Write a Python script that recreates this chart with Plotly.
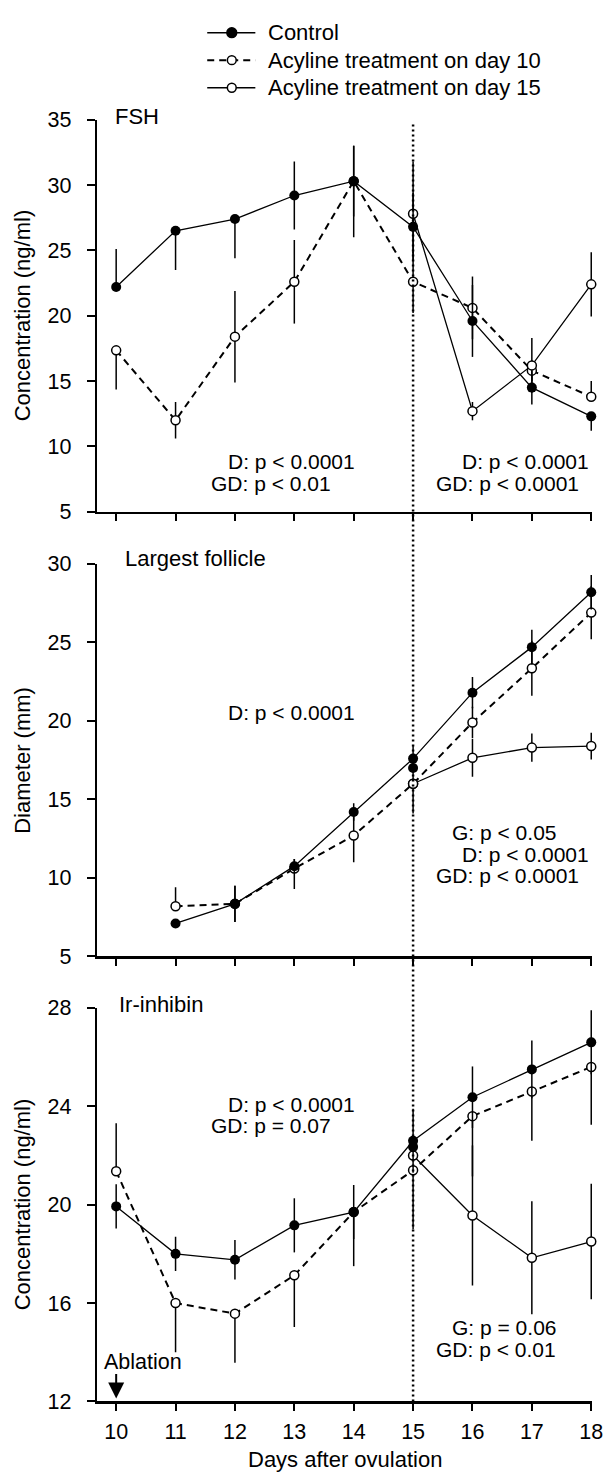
import plotly.graph_objects as go

W, H = 615, 1484
FONT = "Liberation Sans, Arial, Helvetica, sans-serif"

days = [10, 11, 12, 13, 14, 15, 16, 17, 18]
x_ticks = [10, 11, 12, 13, 14, 15, 16, 17, 18]

# ---------------- FSH (ng/ml) ----------------
fsh_control = [22.2, 26.5, 27.4, 29.2, 30.3, 26.8, 19.6, 14.5, 12.3]
fsh_control_ep = [2.9, 0, 0, 2.6, 2.7, 2.6, 2.75, 1.3, 0]
fsh_control_em = [0, 3.0, 3.0, 2.6, 2.7, 2.6, 2.75, 1.3, 1.1]
fsh_acy10 = [17.35, 12.0, 18.4, 22.6, 30.3, 22.6, 20.6, 15.8, 13.8]
fsh_acy10_ep = [0, 1.4, 3.5, 3.2, 2.7, 2.3, 2.4, 0.8, 1.2]
fsh_acy10_em = [3.0, 1.4, 3.5, 3.2, 4.3, 2.4, 2.4, 0.8, 0]
fsh_acy15 = [None, None, None, None, None, 27.8, 12.7, 16.2, 22.4]
fsh_acy15_ep = [0, 0, 0, 0, 0, 4.0, 0.7, 2.1, 2.45]
fsh_acy15_em = [0, 0, 0, 0, 0, 3.0, 0.7, 2.1, 2.45]
fsh_extra = [None, None, None, None, None, None, None, None, None]

# ---------------- Largest follicle (mm) ----------------
fol_control = [None, 7.1, 8.35, 10.75, 14.2, 17.6, 21.8, 24.7, 28.2]
fol_control_ep = [0, 0, 1.15, 0.45, 0.55, 0.8, 1.0, 1.1, 1.1]
fol_control_em = [0, 0, 1.15, 0.45, 0.55, 0.8, 1.0, 1.1, 1.1]
fol_acy10 = [None, 8.2, 8.35, 10.6, 12.7, 16.0, 19.9, 23.35, 26.9]
fol_acy10_ep = [0, 1.2, 1.15, 0.6, 1.7, 1.9, 1.0, 1.75, 1.7]
fol_acy10_em = [0, 0, 1.15, 1.3, 1.7, 1.9, 1.0, 1.75, 1.7]
fol_acy15 = [None, None, None, None, None, 16.0, 17.65, 18.3, 18.4]
fol_acy15_ep = [0, 0, 0, 0, 0, 0, 1.2, 0.9, 0.85]
fol_acy15_em = [0, 0, 0, 0, 0, 0, 1.2, 0.9, 0.85]
fol_extra = [None, None, None, None, None, 17.0, None, None, None]

# ---------------- Ir-inhibin (ng/ml) ----------------
inh_control = [19.93, 18.0, 17.76, 19.16, 19.7, 22.6, 24.37, 25.5, 26.6]
inh_control_ep = [0.9, 0.7, 0.8, 1.1, 1.1, 1.3, 1.25, 1.17, 1.3]
inh_control_em = [0.9, 0.7, 0.8, 1.1, 1.1, 1.3, 1.25, 1.17, 1.3]
inh_acy10 = [21.36, 16.0, 15.57, 17.13, 19.7, 21.4, 23.6, 24.6, 25.6]
inh_acy10_ep = [1.95, 0, 0, 0, 0, 0, 0, 0, 0]
inh_acy10_em = [0, 2.0, 2.0, 2.1, 2.2, 2.4, 2.45, 2.0, 2.35]
inh_acy15 = [None, None, None, None, None, 22.0, 19.56, 17.84, 18.5]
inh_acy15_ep = [0, 0, 0, 0, 0, 0, 2.85, 2.3, 2.35]
inh_acy15_em = [0, 0, 0, 0, 0, 0, 2.85, 2.3, 2.35]
inh_extra = [None, None, None, None, None, 22.35, None, None, None]

series_names = ["Control", "Acyline treatment on day 10", "Acyline treatment on day 15"]

panels = [
    dict(name="FSH", ytitle="Concentration (ng/ml)", yrange=[5, 35], yticks=[5, 10, 15, 20, 25, 30, 35],
         ctrl=(fsh_control, fsh_control_ep, fsh_control_em),
         a10=(fsh_acy10, fsh_acy10_ep, fsh_acy10_em),
         a15=(fsh_acy15, fsh_acy15_ep, fsh_acy15_em), extra=fsh_extra,
         top=110.5, bottom=509, label_x=115, label_y=107),
    dict(name="Largest follicle", ytitle="Diameter (mm)", yrange=[5, 30], yticks=[5, 10, 15, 20, 25, 30],
         ctrl=(fol_control, fol_control_ep, fol_control_em),
         a10=(fol_acy10, fol_acy10_ep, fol_acy10_em),
         a15=(fol_acy15, fol_acy15_ep, fol_acy15_em), extra=fol_extra,
         top=562, bottom=961, label_x=125, label_y=557),
    dict(name="Ir-inhibin", ytitle="Concentration (ng/ml)", yrange=[12, 28], yticks=[12, 16, 20, 24, 28],
         ctrl=(inh_control, inh_control_ep, inh_control_em),
         a10=(inh_acy10, inh_acy10_ep, inh_acy10_em),
         a15=(inh_acy15, inh_acy15_ep, inh_acy15_em), extra=inh_extra,
         top=1013.3, bottom=1413.3, label_x=119, label_y=1010),
]

stats = [
    # (panel index, text, left px, center y px)
    (0, "D: p < 0.0001", 230, 458), (0, "GD: p < 0.01", 213, 480),
    (0, "D: p < 0.0001", 468, 458), (0, "GD: p < 0.0001", 442, 480),
    (1, "D: p < 0.0001", 230, 713),
    (1, "G: p < 0.05", 458, 835), (1, "D: p < 0.0001", 468, 857), (1, "GD: p < 0.0001", 442, 879),
    (2, "D: p < 0.0001", 230, 1111), (2, "GD: p = 0.07", 213, 1133),
    (2, "G: p = 0.06", 458, 1338), (2, "GD: p < 0.01", 442, 1360),
]


def px(x):
    return x / W


def py(y):
    return 1 - y / H


fig = go.Figure()

OPEN = dict(symbol="circle", size=9, color="white", line=dict(color="black", width=1.5))
FILLED = dict(symbol="circle", size=10, color="black", line=dict(color="black", width=0))


def err(ep, em):
    return dict(type="data", symmetric=False, array=ep, arrayminus=em,
                color="black", thickness=1.5, width=0, visible=True)


for i, p in enumerate(panels):
    xa = "x" if i == 0 else f"x{i+1}"
    ya = "y" if i == 0 else f"y{i+1}"
    y10, ep10, em10 = p["a10"]
    fig.add_trace(go.Scatter(x=days, y=y10, mode="lines+markers", xaxis=xa, yaxis=ya,
                             line=dict(color="black", width=2, dash="7px,5px"),
                             marker=OPEN, error_y=err(ep10, em10), cliponaxis=False,
                             showlegend=False, name=series_names[1]))
    y15, ep15, em15 = p["a15"]
    fig.add_trace(go.Scatter(x=days, y=y15, mode="lines+markers", xaxis=xa, yaxis=ya,
                             line=dict(color="black", width=1.3),
                             marker=OPEN, error_y=err(ep15, em15), cliponaxis=False,
                             showlegend=False, name=series_names[2]))
    yc, epc, emc = p["ctrl"]
    fig.add_trace(go.Scatter(x=days, y=yc, mode="lines+markers", xaxis=xa, yaxis=ya,
                             line=dict(color="black", width=1.3),
                             marker=FILLED, error_y=err(epc, emc), cliponaxis=False,
                             showlegend=False, name=series_names[0]))
    fig.add_trace(go.Scatter(x=days, y=p["extra"], mode="markers", xaxis=xa, yaxis=ya,
                             marker=FILLED, cliponaxis=False, showlegend=False))

TXT = 21

# ---------------- axes ----------------
layout = dict(
    width=W, height=H, margin=dict(l=0, r=0, t=0, b=0),
    paper_bgcolor="white", plot_bgcolor="white",
    font=dict(family=FONT, size=TXT, color="black"),
    showlegend=False, hovermode=False,
)
for i, p in enumerate(panels):
    xk = "xaxis" if i == 0 else f"xaxis{i+1}"
    yk = "yaxis" if i == 0 else f"yaxis{i+1}"
    ya = "y" if i == 0 else f"y{i+1}"
    xa = "x" if i == 0 else f"x{i+1}"
    layout[xk] = dict(range=[9.681, 18.0165], domain=[px(99), px(603)], anchor=ya,
                      showline=True, linecolor="black", linewidth=2.5,
                      ticks="outside", ticklen=7, tickwidth=2, tickcolor="black",
                      tickvals=x_ticks, ticktext=[str(v) for v in x_ticks],
                      showticklabels=(i == 2), showgrid=False, zeroline=False,
                      ticklabelstandoff=2,
                      tickfont=dict(family=FONT, size=21.5, color="black"), fixedrange=True)
    layout[yk] = dict(range=p["yrange"], domain=[py(p["bottom"]), py(p["top"])], anchor=xa,
                      showline=True, linecolor="black", linewidth=2.5,
                      ticks="outside", ticklen=8, tickwidth=2, tickcolor="black",
                      tickvals=p["yticks"], showgrid=False, zeroline=False,
                      ticklabelstandoff=11,
                      tickfont=dict(family=FONT, size=21.5, color="black"), fixedrange=True)

fig.update_layout(**layout)

annotations = []
shapes = []

# panel labels and y titles
for i, p in enumerate(panels):
    annotations.append(dict(text=p["name"], x=px(p["label_x"]), y=py(p["label_y"]), xref="paper", yref="paper",
                            xanchor="left", yanchor="middle", showarrow=False,
                            font=dict(family=FONT, size=22, color="black")))
    annotations.append(dict(text=p["ytitle"], x=px(23), y=py((p["top"] + p["bottom"]) / 2),
                            xref="paper", yref="paper", xanchor="center", yanchor="middle",
                            textangle=-90, showarrow=False,
                            font=dict(family=FONT, size=22, color="black")))

for (pi, txt, lx, cy) in stats:
    annotations.append(dict(text=txt, x=px(lx), y=py(cy), xref="paper", yref="paper",
                            xanchor="left", yanchor="middle", showarrow=False,
                            font=dict(family=FONT, size=TXT, color="black")))

# x axis title
annotations.append(dict(text="Days after ovulation", x=px(351), y=py(1472), xref="paper", yref="paper",
                        xanchor="center", yanchor="middle", showarrow=False,
                        font=dict(family=FONT, size=22, color="black")))

# Ablation label with arrow
annotations.append(dict(text="Ablation", x=px(104), y=py(1373), xref="paper", yref="paper",
                        xanchor="left", yanchor="middle", showarrow=False,
                        font=dict(family=FONT, size=21.5, color="black")))
annotations.append(dict(text="", x=10, y=12.12, xref="x3", yref="y3", ax=0, ay=-26,
                        showarrow=True, arrowhead=2, arrowsize=1.6, arrowwidth=2, arrowcolor="black"))

# vertical dotted line at day 15 spanning all panels
shapes.append(dict(type="line", xref="x3", yref="paper", x0=15, x1=15,
                   y0=py(1413.3), y1=py(115),
                   line=dict(color="black", width=2.5, dash="2px,3px")))

# manual legend
leg_rows = [(series_names[0], 22, "solid", True),
            (series_names[1], 50, "dash", False),
            (series_names[2], 78, "solid", False)]
for name, yy, dash, filled in leg_rows:
    shapes.append(dict(type="line", xref="paper", yref="paper", x0=px(211), x1=px(260),
                       y0=py(yy), y1=py(yy),
                       line=dict(color="black", width=2 if dash == "dash" else 1.5,
                                 dash="7px,5px" if dash == "dash" else "solid")))
    r = 5 if filled else 4.5
    shapes.append(dict(type="circle", xref="paper", yref="paper",
                       x0=px(236 - r), x1=px(236 + r), y0=py(yy + r), y1=py(yy - r),
                       fillcolor="black" if filled else "white",
                       line=dict(color="black", width=1.5)))
    annotations.append(dict(text=name, x=px(271), y=py(yy), xref="paper", yref="paper",
                            xanchor="left", yanchor="middle", showarrow=False,
                            font=dict(family=FONT, size=22, color="black")))

fig.update_layout(annotations=annotations, shapes=shapes)

fig.write_html("out.html",
               config={"displayModeBar": False, "staticPlot": True},
               post_script="document.body.style.margin='0';document.body.style.padding='0';"
                           "document.body.style.overflow='hidden';")
